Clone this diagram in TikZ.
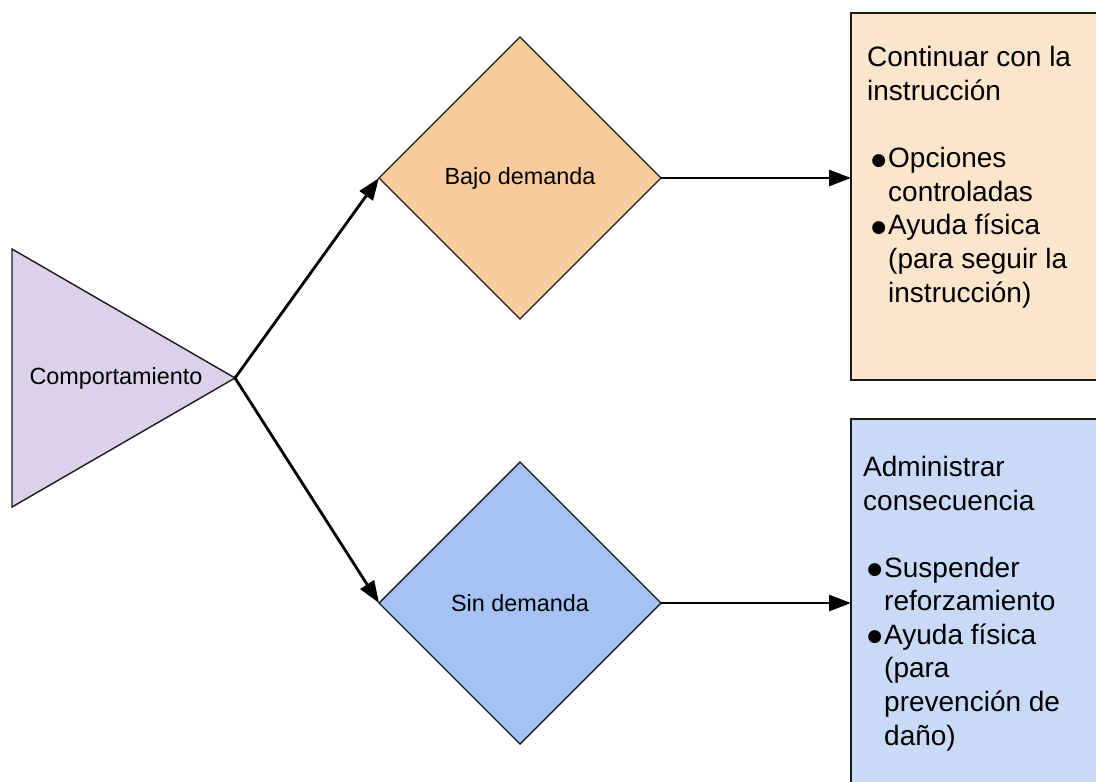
\documentclass[tikz,border=0pt]{standalone}
\usepackage{fontspec}
\setmainfont{Liberation Sans}
\newfontfamily\symfont{DejaVu Sans}
\usetikzlibrary{shapes.geometric,arrows.meta}
\definecolor{trifill}{HTML}{D9D2E9}
\definecolor{orangefill}{HTML}{F9CB9C}
\definecolor{orangebox}{HTML}{FCE5CD}
\definecolor{bluefill}{HTML}{A4C2F4}
\definecolor{bluebox}{HTML}{C9DAF8}
\definecolor{edge}{HTML}{1A1A1A}
\newcommand{\blt}{\llap{\raisebox{2.5pt}{\symfont\fontsize{17}{17}\selectfont●}\kern2pt}}
\tikzset{
  shapetext/.style={font=\fontsize{23.4}{28}\selectfont},
  decision/.style={shape=diamond, draw=edge, line width=1.4pt, minimum width=282pt, minimum height=282pt, inner sep=0pt, outer sep=0pt, aspect=1, shapetext},
  actionbox/.style={shape=rectangle, draw=edge, line width=1.6pt, anchor=north west, inner sep=0pt, outer sep=0pt},
  boxtext/.style={anchor=base west, align=left, inner sep=0pt, font=\fontsize{28}{33.6}\selectfont},
  flow/.style={line width=2.8pt, -{Triangle[length=22pt,width=16pt]}},
}
\begin{document}
\begin{tikzpicture}[x=1pt,y=-1pt]
\clip (0,0) rectangle (1096,782);
\useasboundingbox (0,0) rectangle (1096,782);
% triangle
\coordinate (t1) at (12,249);
\coordinate (t2) at (12,507);
\coordinate (tip) at (235,378);
\draw[fill=trifill, draw=edge, line width=1.4pt, line join=miter] (t1) -- (tip) -- (t2) -- cycle;
\node[shapetext] (comp) at (116,378) {Comportamiento};
% diamonds
\node[decision, fill=orangefill] (bajo) at (520,178) {Bajo demanda};
\node[decision, fill=bluefill] (sin) at (520,603) {Sin demanda};
% boxes
\node[actionbox, fill=orangebox, minimum width=270pt, minimum height=367pt] (box1) at (851,13) {};
\node[actionbox, fill=bluebox, minimum width=270pt, minimum height=400pt] (box2) at (851,419) {};
% box texts (anchored at the baseline of the last line)
\node[boxtext] (t1a) at (867,100) {Continuar con la\\instrucción};
\node[boxtext] (t1b) at (888,302) {\blt Opciones\\controladas\\\blt Ayuda física\\(para seguir la\\instrucción)};
\node[boxtext] (t2a) at (863,510) {Administrar\\consecuencia};
\node[boxtext] (t2b) at (884,745) {\blt Suspender\\reforzamiento\\\blt Ayuda física\\(para\\prevención de\\daño)};
% connectors
\draw[flow] (tip) -- (bajo.west);
\draw[flow] (tip) -- (sin.west);
\draw[flow] (bajo.east) -- (bajo.east -| box1.west);
\draw[flow] (sin.east) -- (sin.east -| box2.west);
\end{tikzpicture}
\end{document}
